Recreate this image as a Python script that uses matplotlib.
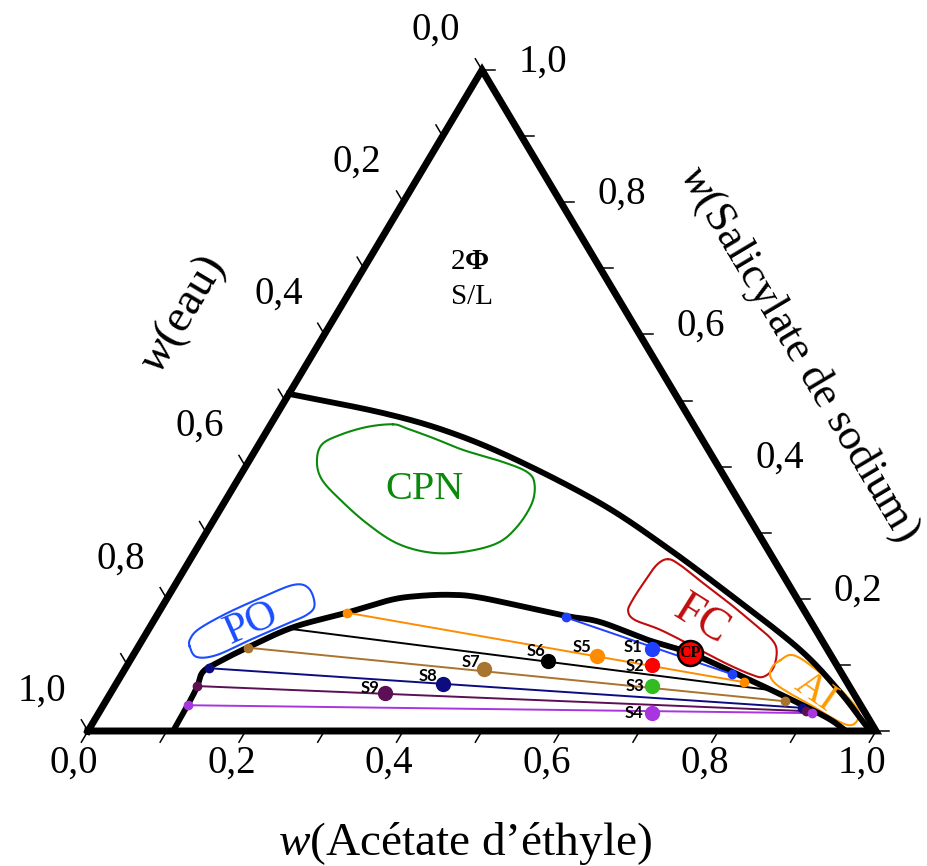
import numpy as np
import matplotlib
matplotlib.use('Agg')
from matplotlib import pyplot as plt

plt.rcParams['font.family'] = 'Liberation Serif'
plt.rcParams['mathtext.fontset'] = 'custom'
plt.rcParams['mathtext.rm'] = 'Liberation Serif'
plt.rcParams['mathtext.it'] = 'Liberation Serif:italic'
plt.rcParams['mathtext.bf'] = 'Liberation Serif:bold'

# Mass fractions: A = acétate d'éthyle, S = salicylate de sodium, eau = 1 - A - S

# lower binodal (liquid-liquid boundary)
binodal_A = [0.108, 0.107, 0.105, 0.101, 0.112, 0.139, 0.182, 0.239, 0.284, 0.315,
             0.357, 0.401, 0.515, 0.567, 0.641, 0.705, 0.774, 0.861, 0.928, 0.962]
binodal_S = [0.000, 0.039, 0.067, 0.089, 0.103, 0.126, 0.157, 0.179, 0.198, 0.204,
             0.206, 0.201, 0.175, 0.165, 0.138, 0.118, 0.089, 0.051, 0.020, 0.000]

# upper boundary (solid / liquid region)
solid_A = [0.000, 0.134, 0.233, 0.339, 0.477, 0.590, 0.717, 0.842, 0.926, 0.986, 1.000]
solid_S = [0.510, 0.481, 0.452, 0.410, 0.345, 0.281, 0.203, 0.123, 0.058, 0.006, 0.000]

# tie lines: water-rich end -> acetate-rich end
tie_left_A = [0.520, 0.239, 0.183, 0.140, 0.106, 0.104, 0.107]
tie_left_S = [0.172, 0.179, 0.154, 0.126, 0.095, 0.068, 0.039]
tie_right_A = [0.774, 0.795, 0.834, 0.862, 0.889, 0.896, 0.905]
tie_right_S = [0.086, 0.074, 0.062, 0.045, 0.035, 0.030, 0.027]
tie_colors = ['#2040ff', '#ff8c00', '#000000', '#a8742e', '#0c0c80', '#5c0f55', '#a935e0']
tie_dots = [True, True, False, True, True, True, True]

# overall compositions of the samples
feed_names = ['S1', 'S2', 'S3', 'S4', 'S5', 'S6', 'S7', 'S8', 'S9']
feed_A = [0.654, 0.666, 0.682, 0.702, 0.589, 0.531, 0.456, 0.415, 0.348]
feed_S = [0.124, 0.100, 0.068, 0.027, 0.113, 0.106, 0.094, 0.071, 0.057]
feed_colors = ['#2040ff', '#ff0000', '#33bb22', '#a935e0', '#ff8c00', '#000000',
               '#a8742e', '#0c0c80', '#5c0f55']
# label offsets (points) relative to each sample marker
feed_label_dx = [-7, -6, -6, -6, -4, -2, -3, -4, -4]
feed_label_dy = [1.5, -1, 0, 0, 7, 7, 5, 6, 4]

# critical point
cp_A = 0.705
cp_S = 0.118

# outlined domains
po_A = [0.065, 0.082, 0.106, 0.137, 0.168, 0.190, 0.192, 0.172, 0.150, 0.118, 0.087, 0.064, 0.060]
po_S = [0.128, 0.112, 0.115, 0.138, 0.160, 0.176, 0.191, 0.216, 0.221, 0.201, 0.178, 0.155, 0.140]
cpn_A = [0.155, 0.175, 0.217, 0.264, 0.323, 0.361, 0.379, 0.391, 0.390, 0.377,
         0.341, 0.299, 0.250, 0.197, 0.145, 0.107, 0.087, 0.080, 0.096, 0.124]
cpn_S = [0.464, 0.458, 0.443, 0.425, 0.407, 0.392, 0.375, 0.345, 0.309, 0.284,
         0.271, 0.270, 0.284, 0.314, 0.350, 0.380, 0.407, 0.433, 0.448, 0.460]
fc_A = [0.606, 0.626, 0.662, 0.713, 0.763, 0.799, 0.814, 0.822, 0.816,
        0.800, 0.759, 0.704, 0.650, 0.610, 0.595, 0.592, 0.593, 0.596]
fc_S = [0.260, 0.251, 0.228, 0.196, 0.163, 0.138, 0.120, 0.095, 0.082,
        0.085, 0.102, 0.128, 0.153, 0.168, 0.181, 0.196, 0.223, 0.251]
ai_A = [0.825, 0.833, 0.849, 0.879, 0.917, 0.950, 0.965, 0.968, 0.960,
        0.936, 0.902, 0.862, 0.836, 0.823, 0.820]
ai_S = [0.107, 0.115, 0.110, 0.092, 0.067, 0.042, 0.027, 0.013, 0.009,
        0.019, 0.037, 0.057, 0.072, 0.085, 0.098]

H = 661 / 788  # triangle height relative to its base
PX = 1 / 788   # one pixel in axis units


def tern(a, s):
    a = np.asarray(a, float)
    s = np.asarray(s, float)
    return a + 0.5 * s, H * s


def catmull_rom(x, y, closed=False, n=24):
    pts = np.column_stack([x, y])
    if closed:
        P = np.vstack([pts[-1], pts, pts[0], pts[1]])
    else:
        P = np.vstack([2 * pts[0] - pts[1], pts, 2 * pts[-1] - pts[-2]])
    t = np.linspace(0, 1, n, endpoint=False)[:, None]
    out = []
    for i in range(1, len(P) - 2):
        p0, p1, p2, p3 = P[i - 1], P[i], P[i + 1], P[i + 2]
        out.append(0.5 * (2 * p1 + (-p0 + p2) * t + (2 * p0 - 5 * p1 + 4 * p2 - p3) * t ** 2
                          + (-p0 + 3 * p1 - 3 * p2 + p3) * t ** 3))
    out.append(P[-2][None, :])
    res = np.vstack(out)
    return res[:, 0], res[:, 1]


fig = plt.figure(figsize=(9.28, 8.66), dpi=100)
ax = fig.add_axes([88 / 928, 135 / 866, 788 / 928, 661 / 866])
ax.set_xlim(0, 1)
ax.set_ylim(0, H)
ax.axis('off')

# triangle frame
tx, ty = tern([0, 1, 0, 0], [0, 0, 1, 0])
ax.plot(tx, ty, color='k', lw=5, solid_joinstyle='miter', clip_on=False, zorder=5)

# ticks and tick labels
tick_len = 13 * PX
d_bottom = np.array([-0.5, -H]) / np.hypot(0.5, H)
d_left = np.array([-0.5, H]) / np.hypot(0.5, H)
for i in range(11):
    v = i / 10
    # bottom: acetate
    x0, y0 = tern(v, 0)
    ax.plot([x0, x0 + tick_len * d_bottom[0]], [y0, y0 + tick_len * d_bottom[1]],
            color='k', lw=1.1, clip_on=False)
    # left: water (A = 0, S = 1 - water)
    x1, y1 = tern(0, 1 - v)
    ax.plot([x1, x1 + tick_len * d_left[0]], [y1, y1 + tick_len * d_left[1]],
            color='k', lw=1.1, clip_on=False)
    # right: salicylate (water = 0)
    x2, y2 = tern(1 - v, v)
    ax.plot([x2, x2 + tick_len], [y2, y2], color='k', lw=1.1, clip_on=False)
    if i % 2 == 0:
        lab = f'{v:.1f}'.replace('.', ',')
        ax.text(x0 - 14 * PX, y0 - 32 * PX, lab, fontsize=28, ha='center', va='center')
        ax.text(x1 - 46 * PX, y1 + 40 * PX, lab, fontsize=28, ha='center', va='center')
        if i > 0:
            ax.text(x2 + 61 * PX, y2 + 8 * PX, lab, fontsize=28, ha='center', va='center')

# phase boundaries
bx, by = catmull_rom(*tern(binodal_A, binodal_S))
ax.plot(bx, by, color='k', lw=4.2, zorder=3)
sx, sy = catmull_rom(*tern(solid_A, solid_S))
ax.plot(sx, sy, color='k', lw=4.2, zorder=3)

# tie lines
for la, ls, ra, rs, c, dots in zip(tie_left_A, tie_left_S, tie_right_A, tie_right_S,
                                   tie_colors, tie_dots):
    x, y = tern([la, ra], [ls, rs])
    ax.plot(x, y, color=c, lw=1.4, zorder=4)
    if dots:
        ax.plot(x, y, 'o', color=c, ms=6, zorder=6)

# samples
for name, a, s, c, dx, dy in zip(feed_names, feed_A, feed_S, feed_colors,
                                 feed_label_dx, feed_label_dy):
    x, y = tern(a, s)
    ax.plot(x, y, 'o', color=c, ms=10, zorder=7)
    ax.annotate(name, (x, y), xytext=(dx, dy), textcoords='offset points',
                ha='right', va='center', fontsize=12, fontweight='bold',
                family='Lato', zorder=8)

# critical point
cx, cy = tern(cp_A, cp_S)
ax.plot(cx, cy, 'o', ms=18, mfc='#ff0000', mec='k', mew=1.8, zorder=9)
ax.text(cx, cy, 'CP', fontsize=11.5, fontweight='bold', ha='center', va='center', zorder=10)

# outlined domains
for A, S, c in [(po_A, po_S, '#1a4dff'), (cpn_A, cpn_S, '#0a8a0a'),
                (fc_A, fc_S, '#c00c0c'), (ai_A, ai_S, '#ff9900')]:
    x, y = catmull_rom(*tern(A, S), closed=True)
    ax.plot(x, y, color=c, lw=1.5, zorder=2)

ax.text(*tern(0.127, 0.162), 'PO', color='#1a4dff', fontsize=31, rotation=24,
        ha='center', va='center')
ax.text(*tern(0.245, 0.365), 'CPN', color='#0a8a0a', fontsize=29, ha='center', va='center')
ax.text(*tern(0.695, 0.168), 'FC', color='#c00c0c', fontsize=33, rotation=-32,
        ha='center', va='center')
ax.text(*tern(0.894, 0.058), 'AI', color='#ff9900', fontsize=29, rotation=-35,
        ha='center', va='center')
ax.text(*tern(0.130, 0.710), r'2$\mathbf{\Phi}$', fontsize=21, ha='center', va='center')
ax.text(*tern(0.159, 0.657), 'S/L', fontsize=21, ha='center', va='center')

# axis titles
ang = np.degrees(np.arctan2(H, 0.5))
ax.text(0.478, -0.143, '$w$(Acétate d’éthyle)', fontsize=34, ha='center', va='center')
ax.text(95 * PX, 416 * PX, '$w$(eau)', fontsize=34, rotation=ang, ha='center',
        va='center', rotation_mode='anchor')
ax.text(711 * PX, 378 * PX, '$w$(Salicylate de sodium)', fontsize=32, rotation=-ang,
        ha='center', va='center', rotation_mode='anchor')

fig.savefig('out.png', dpi=100)
